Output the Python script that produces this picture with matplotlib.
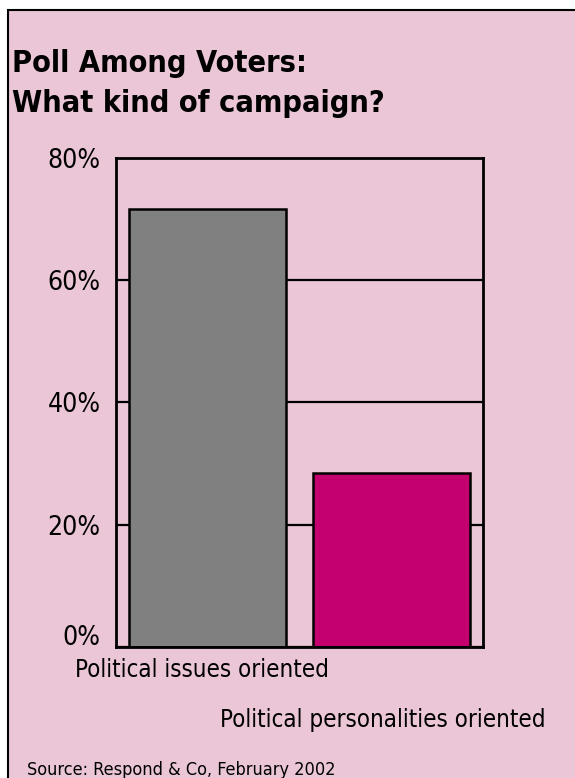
import matplotlib.pyplot as plt
import matplotlib.transforms as mtransforms
from matplotlib.patches import Rectangle

categories = ["Political issues oriented", "Political personalities oriented"]
shares = [71.6, 28.4]
bar_colors = ["#808080", "#c4006e"]
yticks = [0, 20, 40, 60, 80]
ytick_labels = ["0%", "20%", "40%", "60%", "80%"]

source = "Source: Respond & Co, February 2002"

BG = "#eac6d6"
FONT = ["Liberation Sans Narrow", "DejaVu Sans"]
plt.rcParams["font.family"] = FONT
plt.rcParams["font.stretch"] = "condensed"

W, H = 575, 778
fig = plt.figure(figsize=(W / 100, H / 100), dpi=100, facecolor="white")

# framed panel: only the top and left edges are inside the canvas
fig.patches.append(Rectangle((8 / W, -0.05), 1.1, 1 - 10 / H + 0.05,
                             transform=fig.transFigure, facecolor=BG,
                             edgecolor="black", linewidth=1.5, zorder=-1))

fig.text(12 / W, 1 - 72 / H, "Poll Among Voters:", fontsize=22,
         fontweight="bold", ha="left", va="baseline")
fig.text(12 / W, 1 - 112 / H, "What kind of campaign?", fontsize=22,
         fontweight="bold", ha="left", va="baseline")
fig.text(27 / W, 1 - 775 / H, source, fontsize=13, ha="left", va="baseline")

left, right, top, bottom = 116, 483, 158, 647
ax = fig.add_axes([left / W, 1 - bottom / H, (right - left) / W, (bottom - top) / H])
ax.set_facecolor("none")
ax.set_zorder(2)

x = range(len(categories))
ax.bar(x, shares, width=0.853, color=bar_colors, edgecolor="black",
       linewidth=1.8, zorder=3)

ax.set_ylim(0, 80)
ax.set_xlim(-0.497, 1.497)
ax.set_yticks(yticks)
ax.set_yticklabels(ytick_labels, fontsize=19)
ax.set_xticks([])
ax.tick_params(axis="y", length=0, pad=11)
ax.yaxis.grid(True, color="black", linewidth=1.6, zorder=1)
ax.set_axisbelow(True)
for sp in ax.spines.values():
    sp.set_linewidth(2)
    sp.set_zorder(4)

# nudge the baseline label up off the axis
fig.canvas.draw()
lab0 = ax.get_yticklabels()[0]
lab0.set_transform(lab0.get_transform() +
                   mtransforms.ScaledTranslation(0, 12 / 100, fig.dpi_scale_trans))

# staggered category labels under the bars
trans = mtransforms.blended_transform_factory(ax.transData, ax.transAxes)
for i, (name, dx, dy) in enumerate(zip(categories, [-0.03, -0.05], [-0.047, -0.149])):
    ax.text(i + dx, dy, name, transform=trans, fontsize=17.3, ha="center",
            va="center", clip_on=False)

fig.savefig("out.png", dpi=100, facecolor=fig.get_facecolor())
